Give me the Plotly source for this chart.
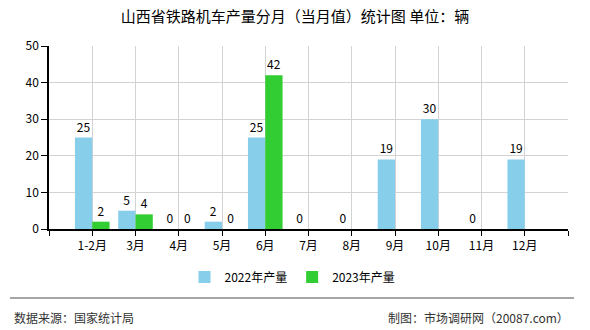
import plotly.graph_objects as go

categories = ["1-2月", "3月", "4月", "5月", "6月", "7月", "8月", "9月", "10月", "11月", "12月"]
values_2022 = [25, 5, 0, 2, 25, 0, 0, 19, 30, 0, 19]
values_2023 = [2, 4, 0, 0, 42, None, None, None, None, None, None]
series_names = ["2022年产量", "2023年产量"]
y_ticks = [0, 10, 20, 30, 40, 50]

FONT = "SimSun, 'Noto Sans CJK SC', sans-serif"
W, H = 590, 330
L, R, T, B = 49, 568, 46, 229

def px_x(p):
    return (p - L) / (R - L)

def px_y(p):
    return (B - p) / (B - T)

xpos = list(range(len(categories)))

fig = go.Figure()
fig.add_trace(go.Bar(
    x=xpos, y=values_2022, name=series_names[0],
    marker=dict(color="#87CEEB", line=dict(width=0)),
    text=values_2022, textposition="outside",
    textfont=dict(size=12, color="#000000", family=FONT),
    cliponaxis=False,
))
fig.add_trace(go.Bar(
    x=xpos, y=values_2023, name=series_names[1],
    marker=dict(color="#32CD32", line=dict(width=0)),
    text=values_2023, textposition="outside",
    textfont=dict(size=12, color="#000000", family=FONT),
    cliponaxis=False,
))

tickvals = [-1] + xpos + [len(categories)]
ticktext = [""] + categories + [""]

fig.update_layout(
    width=W, height=H,
    margin=dict(l=L, r=W - R, t=T, b=H - B, pad=0),
    paper_bgcolor="white", plot_bgcolor="white",
    barmode="group", bargap=0.2, bargroupgap=0,
    font=dict(family=FONT, size=12, color="#000000"),
    title=dict(text="山西省铁路机车产量分月（当月值）统计图 单位：辆",
               x=0.5, xref="container", xanchor="center",
               y=1 - 17 / H, yref="container", yanchor="middle",
               font=dict(size=15, color="#000000", family=FONT)),
    xaxis=dict(
        range=[-1, len(categories)], tickmode="array",
        tickvals=tickvals, ticktext=ticktext,
        showgrid=True, gridcolor="#d3d3d3", gridwidth=1,
        showline=True, linecolor="#000000", linewidth=1.5,
        ticks="outside", ticklen=5, tickcolor="#000000", tickwidth=1,
        tickfont=dict(size=12, color="#000000", family=FONT),
        zeroline=False, fixedrange=True,
    ),
    yaxis=dict(
        range=[0, 50], tickmode="array", tickvals=y_ticks,
        showgrid=True, gridcolor="#d3d3d3", gridwidth=1,
        showline=True, linecolor="#000000", linewidth=1.5,
        ticks="outside", ticklen=6, tickcolor="#000000", tickwidth=1,
        tickfont=dict(size=12, color="#000000", family=FONT),
        zeroline=False, fixedrange=True,
    ),
    legend=dict(
        orientation="h", x=px_x(292.5), xanchor="center",
        y=px_y(277), yanchor="middle",
        font=dict(size=12, color="#000000", family=FONT),
        bgcolor="rgba(0,0,0,0)", itemclick=False,
    ),
    shapes=[
        dict(type="line", xref="paper", yref="paper",
             x0=px_x(10), x1=px_x(574), y0=px_y(298), y1=px_y(298),
             line=dict(color="#888888", width=1.5)),
    ],
    annotations=[
        dict(text="数据来源：国家统计局", xref="paper", yref="paper",
             x=px_x(12), y=px_y(317), xanchor="left", yanchor="middle",
             showarrow=False, font=dict(size=12, color="#333333", family=FONT)),
        dict(text="制图：市场调研网（20087.com）", xref="paper", yref="paper",
             x=px_x(571), y=px_y(317), xanchor="right", yanchor="middle",
             showarrow=False, font=dict(size=12, color="#333333", family=FONT)),
    ],
)

fig.write_html("out.html")
